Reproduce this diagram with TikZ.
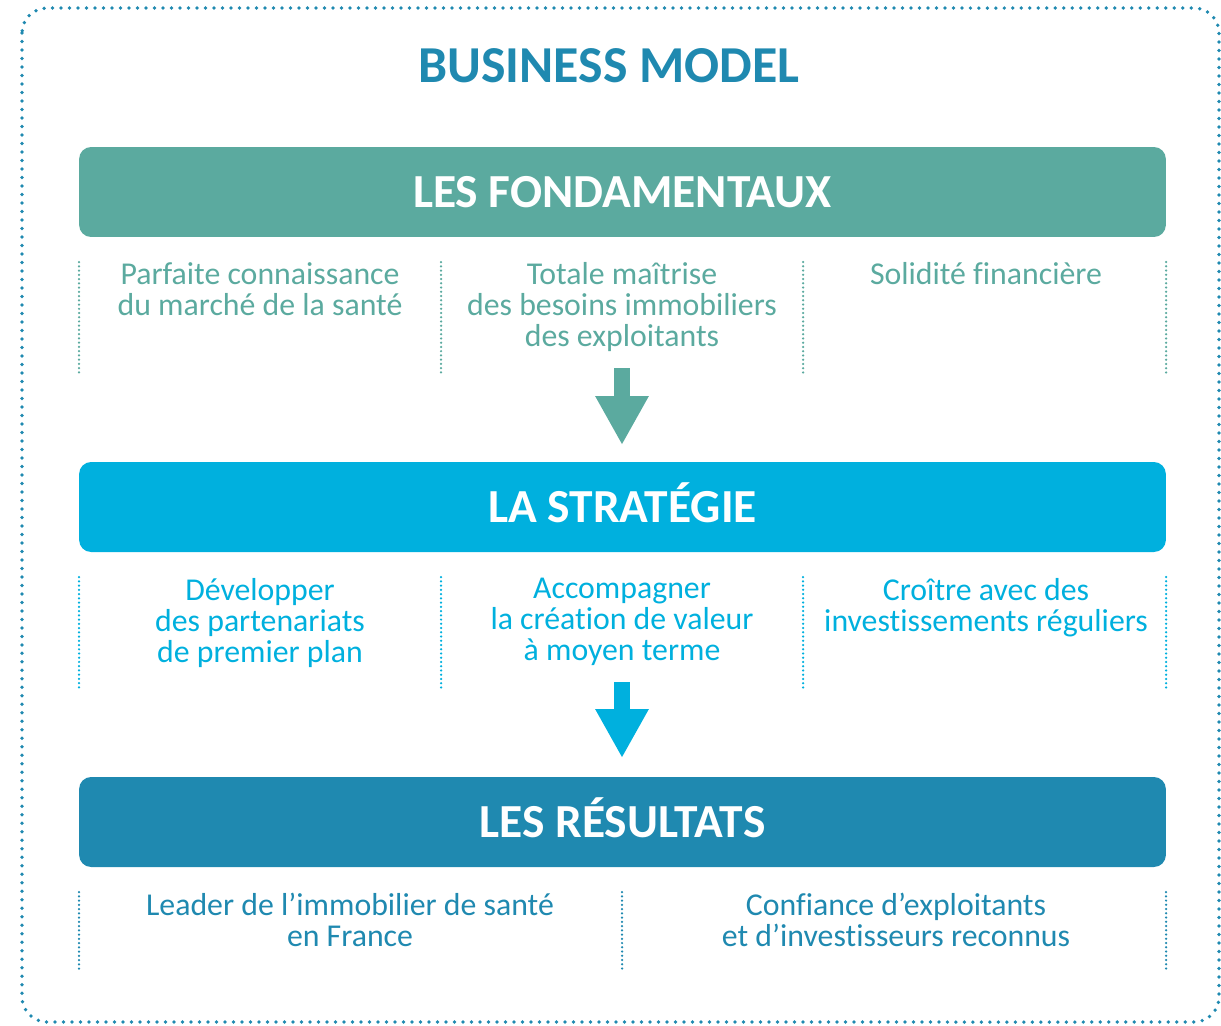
\documentclass[tikz,border=0pt]{standalone}
\usepackage{fontspec}
\setmainfont[Ligatures=NoCommon]{Carlito}
\usetikzlibrary{arrows.meta}
\definecolor{fondteal}{HTML}{5BAA9F}
\definecolor{stratcyan}{HTML}{00B0DE}
\definecolor{resblue}{HTML}{1F89B0}

\begin{document}
\begin{tikzpicture}[x=0.02cm, y=-0.02cm,
  bar/.style={rectangle, rounded corners=0.24cm, minimum width=21.74cm, minimum height=1.8cm, inner sep=0pt, text=white, font=\fontsize{27}{28}\selectfont\bfseries, text height=17.4pt, text depth=0pt},
  item/.style={anchor=north, inner sep=0pt, align=center, font=\fontsize{18.1}{17.6}\selectfont},
  sep/.style={line width=0.05cm, line cap=round, dash pattern=on 0pt off 0.085cm},
  bigarrow/.style={line width=0.33cm, -{Triangle[width=1cm,length=0.98cm]}}
]
\useasboundingbox (0,0) rectangle (1221,1025);

% outer frame
\draw[resblue, line width=0.075cm, line cap=round, dash pattern=on 0pt off 0.17cm, rounded corners=0.5cm] (22,8) rectangle (1219,1022);

\node[text=resblue, font=\fontsize{29.5}{31}\selectfont\bfseries, text height=19pt, text depth=0pt, inner sep=0pt] (title) at (609,66) {BUSINESS MODEL};

% bars
\node[bar, fill=fondteal] (fond) at (622.5,192) {LES FONDAMENTAUX};
\node[bar, fill=stratcyan] (strat) at (622.5,507) {LA STRATÉGIE};
\node[bar, fill=resblue] (res) at (622.5,822) {LES RÉSULTATS};

% fondamentaux
\foreach \x in {79,441,803,1166}
  \draw[sep, fondteal] (\x,262) -- (\x,375);
\node[item, text=fondteal] (f1) at (260,262) {Parfaite connaissance\\du marché de la santé};
\node[item, text=fondteal] (f2) at (622,262) {Totale maîtrise\\des besoins immobiliers\\des exploitants};
\node[item, text=fondteal] (f3) at (986,262) {Solidité financière};

\coordinate (a1s) at (622,368);
\coordinate (a1e) at (622,445);
\draw[bigarrow, fondteal] (a1s) -- (a1e);

% strategie
\foreach \x in {79,441,803,1166}
  \draw[sep, stratcyan] (\x,577) -- (\x,690);
\node[item, text=stratcyan] (s1) at (260,578) {Développer\\des partenariats\\de premier plan};
\node[item, text=stratcyan] (s2) at (622,578) {Accompagner\\la création de valeur\\à moyen terme};
\node[item, text=stratcyan] (s3) at (986,578) {Croître avec des\\investissements réguliers};

\coordinate (a2s) at (622,682);
\coordinate (a2e) at (622,758);
\draw[bigarrow, stratcyan] (a2s) -- (a2e);

% resultats
\foreach \x in {79,622,1166}
  \draw[sep, resblue] (\x,892) -- (\x,972);
\node[item, text=resblue] (r1) at (350,893) {Leader de l’immobilier de santé\\en France};
\node[item, text=resblue] (r2) at (896,893) {Confiance d’exploitants\\et d’investisseurs reconnus};
\end{tikzpicture}
\end{document}
